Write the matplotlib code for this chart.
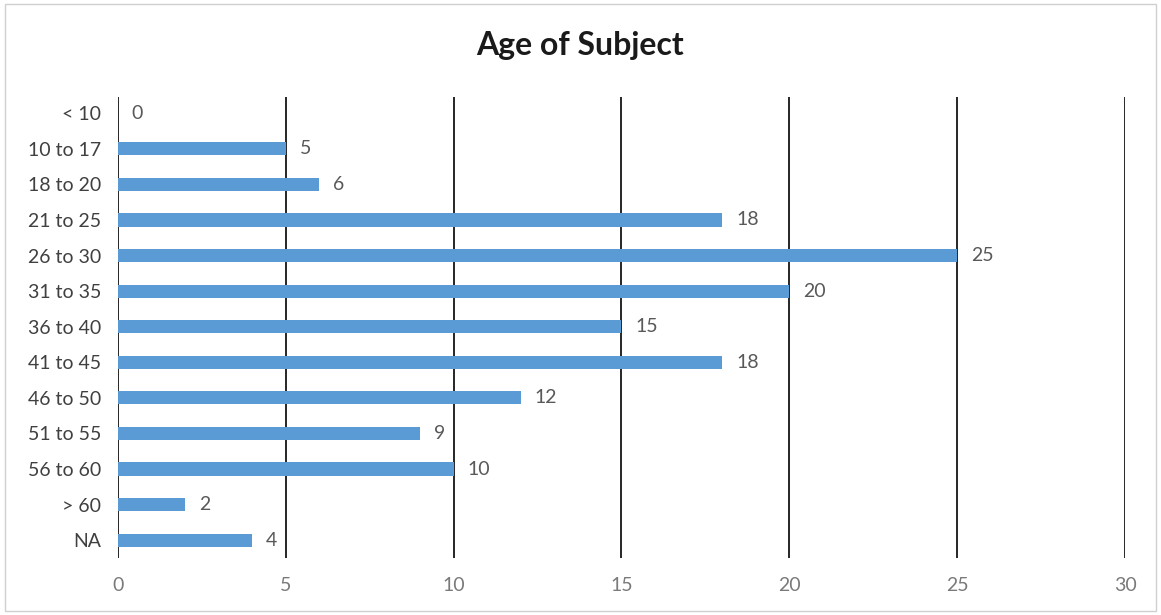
import matplotlib.pyplot as plt
from matplotlib.patches import Rectangle

categories = ['< 10', '10 to 17', '18 to 20', '21 to 25', '26 to 30', '31 to 35',
              '36 to 40', '41 to 45', '46 to 50', '51 to 55', '56 to 60', '> 60', 'NA']
counts = [0, 5, 6, 18, 25, 20, 15, 18, 12, 9, 10, 2, 4]
xticks = [0, 5, 10, 15, 20, 25, 30]

plt.rcParams['font.family'] = ['Lato', 'DejaVu Sans']
grey = '#595959'

fig = plt.figure(figsize=(11.61, 6.15), dpi=100)
ax = fig.add_axes([0.1016, 0.0927, 0.8674, 0.7493])

ypos = list(range(len(categories)))
ax.barh(ypos, counts, height=0.37, color='#5B9BD5', zorder=3)

for y, v in zip(ypos, counts):
    ax.annotate(str(v), (v, y), xytext=(10, 0), textcoords='offset points',
                va='center', ha='left', fontsize=14, color=grey)

ax.set_xlim(0, 30)
ax.set_ylim(12.5, -0.45)
ax.set_xticks(xticks)
ax.set_yticks(ypos)
ax.set_yticklabels(categories)
ax.tick_params(length=0, labelsize=14)
ax.tick_params(axis='x', pad=14, labelcolor='#7a7a7a')
ax.tick_params(axis='y', pad=12, labelcolor='#404040')
for s in ax.spines.values():
    s.set_visible(False)
for x in xticks:
    ax.axvline(x, color='#262626', lw=1.4, zorder=2)

fig.suptitle('Age of Subject', y=0.95, fontsize=23, fontweight='bold', color='#1a1a1a')

fig.patches.append(Rectangle((0.004, 0.006), 0.992, 0.988, transform=fig.transFigure,
                             fill=False, edgecolor='#d0d0d0', lw=1))

plt.savefig('out.png', dpi=100)
